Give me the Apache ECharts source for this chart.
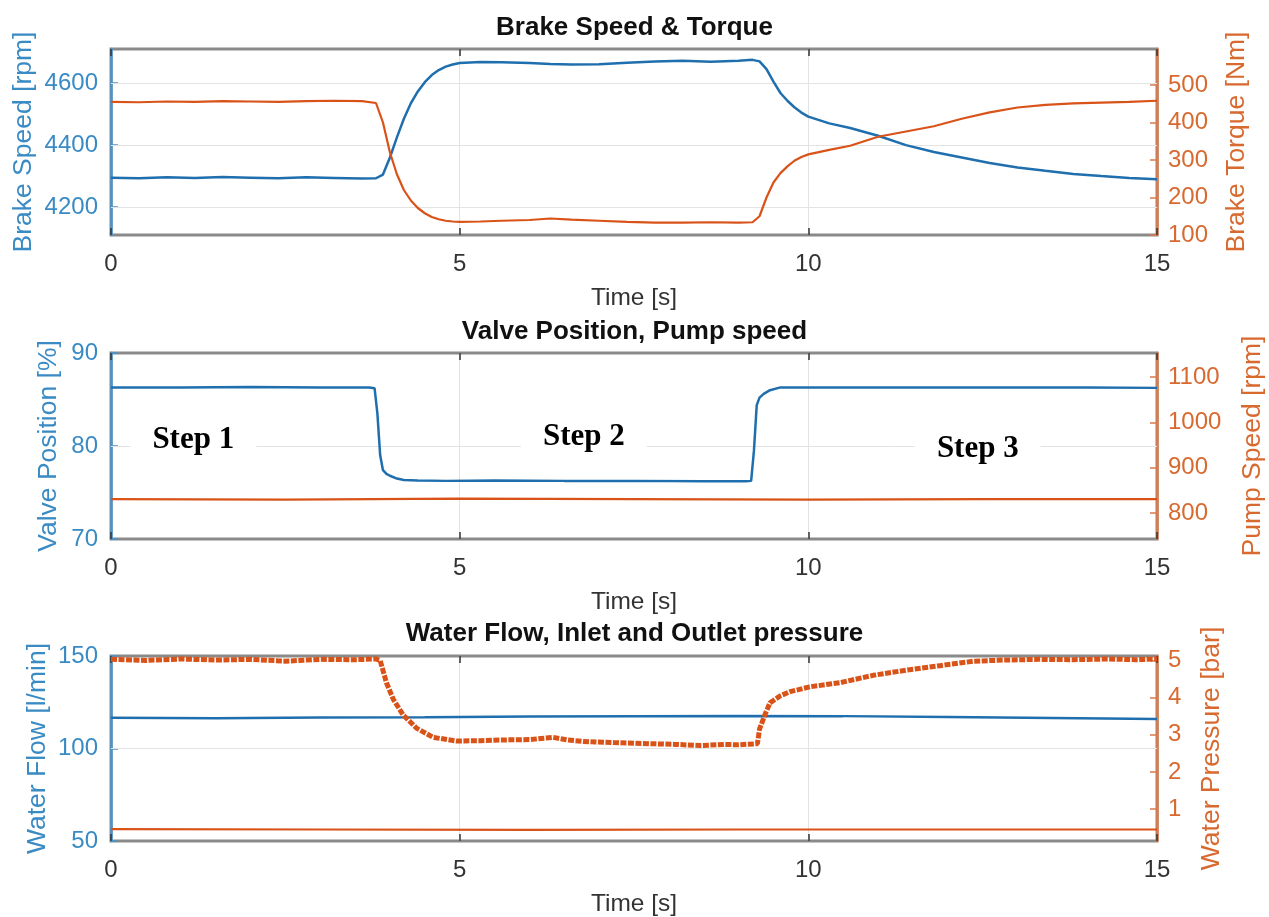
<!DOCTYPE html>
<html>
<head>
<meta charset="utf-8">
<title>Brake test: speed, torque, valve, pump, flow, pressure</title>
<script src="https://cdn.jsdelivr.net/npm/echarts@6/dist/echarts.min.js"></script>
<style>
  html, body { margin: 0; padding: 0; background: #ffffff; }
  #chart { width: 1269px; height: 917px; }
</style>
</head>
<body>
<div id="chart"></div>
<script>
// ---- Time axis (s) ----
const timeRange = [0, 15];
const timeTicks = [0, 5, 10, 15];

// ---- Panel 1: brake speed [rpm] and brake torque [Nm] ----
const brakeTime = [0, 0.4, 0.8, 1.2, 1.6, 2.0, 2.4, 2.8, 3.2, 3.6,
  3.8, 3.9, 4.0, 4.1, 4.2, 4.3, 4.4, 4.5, 4.6, 4.7, 4.8, 4.9, 5.0,
  5.3, 5.6, 6.0, 6.3, 6.6, 7.0, 7.4, 7.8, 8.2, 8.6, 9.0,
  9.2, 9.3, 9.4, 9.5, 9.6, 9.7, 9.8, 9.9, 10.0,
  10.3, 10.6, 11.0, 11.4, 11.8, 12.2, 12.6, 13.0, 13.4, 13.8, 14.2, 14.6, 15.0];
const brakeSpeed = [4295, 4293, 4296, 4294, 4297, 4295, 4293, 4296, 4294, 4292,
  4293, 4305, 4360, 4425, 4485, 4535, 4573, 4603, 4626, 4642, 4653, 4660, 4665,
  4668, 4667, 4665, 4662, 4660, 4661, 4666, 4670, 4672, 4669, 4672,
  4675, 4670, 4645, 4605, 4568, 4543, 4522, 4505, 4492,
  4470, 4455, 4430, 4400, 4378, 4360, 4342, 4328, 4317, 4307, 4300, 4294, 4290];
const brakeTorque = [455, 454, 456, 455, 457, 456, 455, 457, 458, 457,
  452, 400, 320, 262, 220, 192, 172, 158, 148, 142, 138, 136, 135,
  136, 138, 140, 144, 141, 138, 135, 133, 133, 134, 133,
  134, 150, 200, 240, 265, 283, 298, 308, 315,
  327, 338, 362, 376, 390, 410, 427, 440, 447, 451, 453, 455, 458];
const speedRange = [4110, 4710];
const speedTicks = [4200, 4400, 4600];
const torqueRange = [100, 596];
const torqueTicks = [100, 200, 300, 400, 500];

// ---- Panel 2: valve position [%] and pump speed [rpm] ----
const valveTime = [0, 1, 2, 3, 3.7, 3.78, 3.82, 3.86, 3.9, 3.95, 4.0, 4.1, 4.2, 4.4, 4.8,
  5.5, 6.5, 7.5, 8.5, 9.1, 9.18, 9.22, 9.26, 9.3, 9.36, 9.45, 9.6,
  10, 11, 12, 13, 14, 15];
const valvePos = [86.3, 86.3, 86.35, 86.3, 86.3, 86.2, 83.5, 79.0, 77.4, 77.0, 76.8, 76.5, 76.35, 76.3, 76.25,
  76.3, 76.25, 76.25, 76.2, 76.2, 76.25, 79.5, 84.4, 85.2, 85.6, 86.0, 86.3,
  86.3, 86.3, 86.3, 86.3, 86.3, 86.25];
const pumpTime = [0, 2.5, 5, 7.5, 10, 12.5, 15];
const pumpSpeed = [831, 830, 832, 831, 830, 831, 831];
const valveRange = [70, 90];
const valveTicks = [70, 80, 90];
const pumpRange = [743, 1153];
const pumpTicks = [800, 900, 1000, 1100];

// Step annotations placed in valve-position coordinates
const stepTime = [1.18, 6.78, 12.43];
const stepValve = [80.6, 81.0, 79.7];
const stepText = ['Step 1', 'Step 2', 'Step 3'];

// ---- Panel 3: water flow [l/min], inlet and outlet pressure [bar] ----
const flowTime = [0, 1.5, 3, 4.5, 6, 7.5, 9, 10.5, 12, 13.5, 15];
const waterFlow = [116.6, 116.3, 116.8, 116.9, 117.3, 117.5, 117.6, 117.5, 117.0, 116.5, 116.0];
const inletTime = [0, 3, 6, 9, 12, 15];
const inletPressure = [0.46, 0.45, 0.44, 0.45, 0.45, 0.45];
const outletTime = [0, 0.5, 1.0, 1.5, 2.0, 2.5, 3.0, 3.5, 3.8, 3.86, 3.95, 4.05, 4.19, 4.38, 4.62, 4.96,
  5.3, 5.6, 6.0, 6.34, 6.55, 6.77, 7.2, 7.73, 8.1, 8.45, 8.8, 9.0, 9.27,
  9.3, 9.38, 9.45, 9.6, 9.74, 10.02, 10.45, 10.93, 11.41, 11.89, 12.37, 12.8,
  13.3, 13.8, 14.3, 14.7, 15.0];
const outletPressure = [5.03, 5.0, 5.04, 5.01, 5.03, 4.98, 5.03, 5.02, 5.04, 5.0, 4.4, 3.95, 3.53, 3.18, 2.93, 2.83,
  2.84, 2.86, 2.87, 2.93, 2.86, 2.82, 2.79, 2.76, 2.74, 2.71, 2.74, 2.73, 2.76,
  3.15, 3.55, 3.86, 4.05, 4.16, 4.29, 4.40, 4.60, 4.74, 4.86, 4.98, 5.01,
  5.03, 5.02, 5.04, 5.02, 5.04];
const flowRange = [50, 150];
const flowTicks = [50, 100, 150];
const pressureRange = [0.14, 5.12];
const pressureTicks = [1, 2, 3, 4, 5];

// ---- Styling ----
const BLUE = '#1f6fae';
const BLUE_TEXT = '#3a8bc4';
const ORANGE = '#d95319';
const ORANGE_TEXT = '#d8692f';
const GRID_LINE = '#e3e3e3';
const SANS = '"Liberation Sans", Arial, Helvetica, sans-serif';

const pairs = (t, v) => t.map((x, i) => [x, v[i]]);
const plain = v => String(v);

// layout of the three stacked panels; nameX is the centre of the rotated left-axis title
const panels = [
  { top: 49, height: 186, title: 'Brake Speed & Torque', titleTop: 15,
    left: { name: 'Brake Speed [rpm]', range: speedRange, ticks: speedTicks, nameX: 24 },
    right: { name: 'Brake Torque [Nm]', range: torqueRange, ticks: torqueTicks, gap: 66 } },
  { top: 353, height: 186, title: 'Valve Position, Pump speed', titleTop: 319,
    left: { name: 'Valve Position [%]', range: valveRange, ticks: valveTicks, nameX: 49 },
    right: { name: 'Pump Speed [rpm]', range: pumpRange, ticks: pumpTicks, gap: 82 } },
  { top: 656, height: 185, title: 'Water Flow, Inlet and Outlet pressure', titleTop: 621,
    left: { name: 'Water Flow [l/min]', range: flowRange, ticks: flowTicks, nameX: 38 },
    right: { name: 'Water Pressure [bar]', range: pressureRange, ticks: pressureTicks, gap: 41 } }
];

const grid = [], xAxis = [], yAxis = [], title = [], graphic = [];
panels.forEach((p, i) => {
  grid.push({
    left: 111, right: 112, top: p.top, height: p.height,
    show: true, backgroundColor: '#ffffff', borderColor: '#8a8a8a', borderWidth: 3,
    containLabel: false, outerBoundsMode: 'none'
  });
  title.push({
    text: p.title, left: 'center', top: p.titleTop, padding: 0,
    textStyle: { fontFamily: SANS, fontWeight: 'bold', fontSize: 26, color: '#111' }
  });
  // rotated left-axis title
  graphic.push({
    type: 'text', x: p.left.nameX, y: p.top + p.height / 2, rotation: Math.PI / 2, silent: true,
    style: { text: p.left.name, fill: BLUE_TEXT, fontFamily: SANS, fontSize: 26.5,
      align: 'center', verticalAlign: 'middle' }
  });
  // bottom time axis
  xAxis.push({
    type: 'value', gridIndex: i, position: 'bottom',
    min: timeRange[0], max: timeRange[1], interval: 5,
    name: 'Time [s]', nameLocation: 'middle', nameGap: 51,
    nameTextStyle: { fontFamily: SANS, fontSize: 24.5, color: '#333' },
    axisLine: { show: false },
    axisTick: { show: true, inside: true, length: 7, customValues: timeTicks,
      lineStyle: { color: '#333', width: 1.5 } },
    axisLabel: { show: true, margin: 17, fontFamily: SANS, fontSize: 24, color: '#333',
      customValues: timeTicks, formatter: plain },
    splitLine: { show: true, lineStyle: { color: GRID_LINE, width: 1 } }
  });
  // top edge ticks
  xAxis.push({
    type: 'value', gridIndex: i, position: 'top',
    min: timeRange[0], max: timeRange[1], interval: 5,
    axisLine: { show: false },
    axisTick: { show: true, inside: true, length: 7, customValues: timeTicks,
      lineStyle: { color: '#333', width: 1.5 } },
    axisLabel: { show: false },
    splitLine: { show: false }
  });
  yAxis.push({
    type: 'value', gridIndex: i, position: 'left',
    min: p.left.range[0], max: p.left.range[1],
    axisLine: { show: true, onZero: false, lineStyle: { color: '#4a94cc', width: 2.5 } },
    axisTick: { show: true, inside: true, length: 7, customValues: p.left.ticks,
      lineStyle: { color: '#4a94cc', width: 1.5 } },
    axisLabel: { show: true, margin: 13, fontFamily: SANS, fontSize: 24, color: BLUE_TEXT,
      customValues: p.left.ticks, formatter: plain },
    splitLine: { show: false }
  });
  yAxis.push({
    type: 'value', gridIndex: i, position: 'right',
    min: p.right.range[0], max: p.right.range[1],
    name: p.right.name, nameLocation: 'middle', nameRotate: 90, nameGap: p.right.gap,
    nameTextStyle: { fontFamily: SANS, fontSize: 26.5, color: ORANGE_TEXT },
    axisLine: { show: true, onZero: false, lineStyle: { color: '#dc7a4a', width: 2.5 } },
    axisTick: { show: true, inside: true, length: 7, customValues: p.right.ticks,
      lineStyle: { color: '#dc7a4a', width: 1.5 } },
    axisLabel: { show: true, margin: 11, fontFamily: SANS, fontSize: 24, color: ORANGE_TEXT,
      customValues: p.right.ticks, formatter: plain },
    splitLine: { show: false }
  });
});

// horizontal grid lines at the inner ticks of each left axis
const innerTicks = (ticks, range) => ticks.filter(v => v > range[0] && v < range[1]);
const gridLines = (ticks, range) => ({
  silent: true, symbol: 'none', z: 1, animation: false,
  label: { show: false },
  lineStyle: { color: GRID_LINE, width: 1, type: 'solid' },
  emphasis: { disabled: true },
  data: innerTicks(ticks, range).map(v => ({ yAxis: v }))
});

const lineBase = { type: 'line', showSymbol: false, symbol: 'none', smooth: false, animation: false, z: 3 };

const series = [
  Object.assign({}, lineBase, {
    name: 'Brake Speed', xAxisIndex: 0, yAxisIndex: 0,
    data: pairs(brakeTime, brakeSpeed),
    lineStyle: { color: BLUE, width: 2.5 },
    markLine: gridLines(speedTicks, speedRange)
  }),
  Object.assign({}, lineBase, {
    name: 'Brake Torque', xAxisIndex: 0, yAxisIndex: 1,
    data: pairs(brakeTime, brakeTorque),
    lineStyle: { color: ORANGE, width: 2.2 }
  }),
  Object.assign({}, lineBase, {
    name: 'Valve Position', xAxisIndex: 2, yAxisIndex: 2,
    data: pairs(valveTime, valvePos),
    lineStyle: { color: BLUE, width: 2.5 },
    markLine: gridLines(valveTicks, valveRange)
  }),
  Object.assign({}, lineBase, {
    name: 'Pump Speed', xAxisIndex: 2, yAxisIndex: 3,
    data: pairs(pumpTime, pumpSpeed),
    lineStyle: { color: ORANGE, width: 2.2 }
  }),
  {
    type: 'scatter', name: 'Steps', xAxisIndex: 2, yAxisIndex: 2, z: 10,
    symbolSize: 0, silent: true, animation: false,
    itemStyle: { opacity: 1 },
    data: stepTime.map((t, i) => ({ value: [t, stepValve[i]], name: stepText[i] })),
    label: {
      show: true, position: 'inside', formatter: d => d.name, opacity: 1,
      fontFamily: '"Liberation Serif", "Times New Roman", serif', fontWeight: 'bold',
      fontSize: 31, color: '#000000', textBorderWidth: 0,
      backgroundColor: '#ffffff', padding: [14, 22]
    }
  },
  Object.assign({}, lineBase, {
    name: 'Water Flow', xAxisIndex: 4, yAxisIndex: 4,
    data: pairs(flowTime, waterFlow),
    lineStyle: { color: BLUE, width: 2.5 },
    markLine: gridLines(flowTicks, flowRange)
  }),
  Object.assign({}, lineBase, {
    name: 'Inlet Pressure', xAxisIndex: 4, yAxisIndex: 5,
    data: pairs(inletTime, inletPressure),
    lineStyle: { color: ORANGE, width: 2.2 }
  }),
  Object.assign({}, lineBase, {
    name: 'Outlet Pressure', xAxisIndex: 4, yAxisIndex: 5,
    data: pairs(outletTime, outletPressure),
    lineStyle: { color: ORANGE, width: 5, type: [6, 1.5] }
  })
];

const chart = echarts.init(document.getElementById('chart'), null, { renderer: 'canvas' });
chart.setOption({
  animation: false,
  backgroundColor: '#ffffff',
  title, grid, xAxis, yAxis, series, graphic
});
</script>
</body>
</html>
